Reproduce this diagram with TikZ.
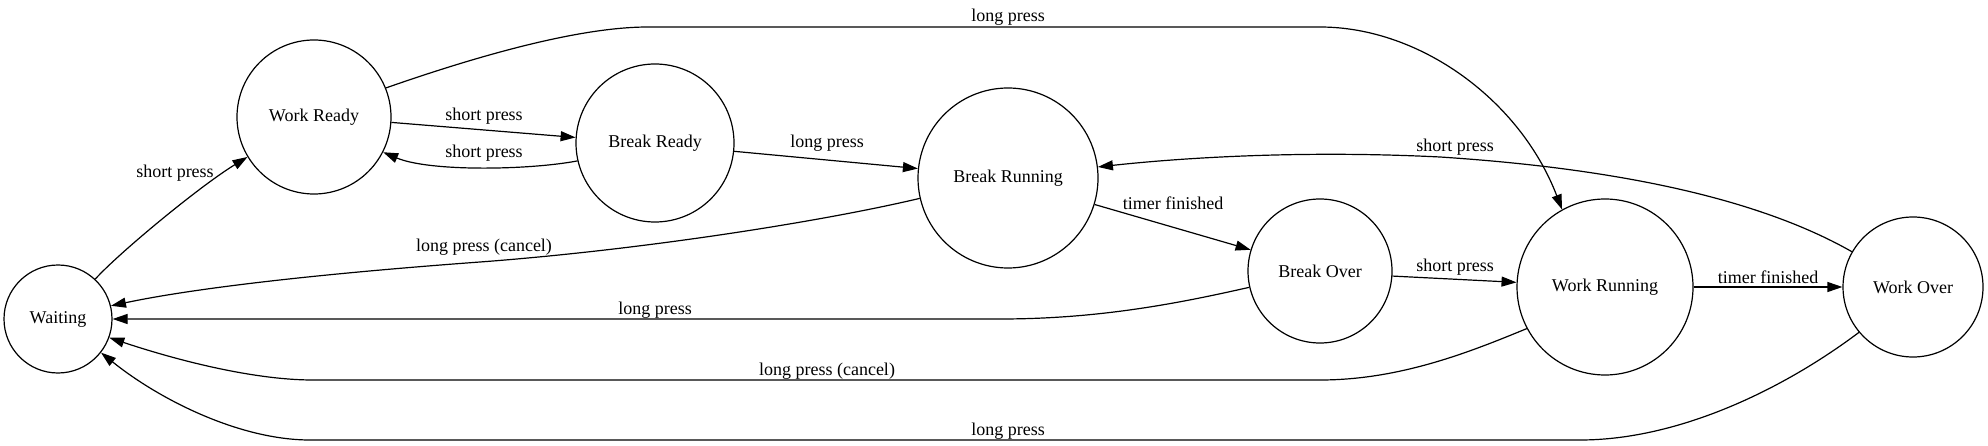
\documentclass[tikz,border=0pt]{standalone}
\usepackage{fontspec}
\setmainfont{Liberation Serif}
\usetikzlibrary{arrows.meta}
\begin{document}
\begin{tikzpicture}[x=1pt,y=-1pt, line width=1.2pt,
  state/.style={circle, draw, inner sep=0pt, font=\fontsize{18}{20}\selectfont},
  lbl/.style={inner sep=0pt, font=\fontsize{18}{20}\selectfont},
  edge/.style={-{Triangle[length=15pt,width=10pt]}}]
\useasboundingbox (0,0) rectangle (1988,446);
% states
\node[state, minimum size=108pt] (W) at (58,319) {Waiting};
\node[state, minimum size=154pt] (WR) at (314,117) {Work Ready};
\node[state, minimum size=158pt] (BR) at (655,143) {Break Ready};
\node[state, minimum size=180pt] (BRun) at (1008,178) {Break Running};
\node[state, minimum size=144pt] (BO) at (1320,271) {Break Over};
\node[state, minimum size=176pt] (WRun) at (1605,287) {Work Running};
\node[state, minimum size=140pt] (WO) at (1913,287) {Work Over};
% edges
\draw[edge] (W.47) .. controls (120,252) and (200,186) .. (WR.211);
\draw[edge] (WR.-4) -- (BR.176);
\draw[edge] (BR.193) .. controls (530,170) and (430,172) .. (WR.-27);
\draw[edge] (BR.-6) -- (BRun.174);
\draw[edge] (BRun.193) .. controls (820,222) and (640,250) .. (480,262) .. controls (330,273) and (200,287) .. (W.14);
\draw[edge] (BRun.-17) -- (BO.163);
\draw[edge] (BO.193) .. controls (1180,303) and (1100,319) .. (1000,319) -- (W.0);
\draw[edge] (BO.-4) -- (WRun.177);
\draw[edge] (WRun.208) .. controls (1470,352) and (1400,380) .. (1320,380) -- (313,380) .. controls (250,380) and (170,358) .. (W.-20);
\draw[edge] (WO.220) .. controls (1785,388) and (1680,440) .. (1580,440) -- (310,440) .. controls (240,440) and (160,400) .. (W.-38);
\draw[edge] (WRun.0) -- (WO.180);
\draw[edge] (WO.150) .. controls (1770,205) and (1640,170) .. (1440,157) .. controls (1300,150) and (1180,158) .. (BRun.7);
\draw[edge] (WR.22) .. controls (480,55) and (580,27) .. (648,27) -- (1320,27) .. controls (1420,27) and (1520,100) .. (WRun.119);
% labels
\node[lbl] (l1) at (175,173) {short press};
\node[lbl] (l2) at (484,116) {short press};
\node[lbl] (l3) at (484,153) {short press};
\node[lbl] (l4) at (827,143) {long press};
\node[lbl] (l5) at (484,247) {long press (cancel)};
\node[lbl] (l6) at (1173,203) {timer finished};
\node[lbl] (l7) at (655,310) {long press};
\node[lbl] (l8) at (1455,267) {short press};
\node[lbl] (l9) at (827,371) {long press (cancel)};
\node[lbl] (l10) at (1008,431) {long press};
\node[lbl] (l11) at (1768,277) {timer finished};
\node[lbl] (l12) at (1455,147) {short press};
\node[lbl] (l13) at (1008,17) {long press};
\end{tikzpicture}
\end{document}
